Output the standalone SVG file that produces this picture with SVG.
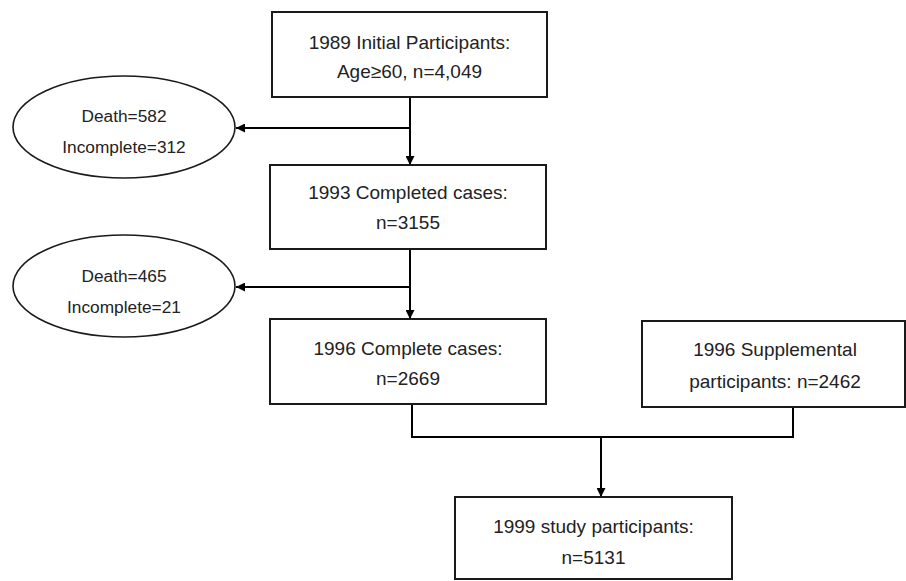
<svg xmlns="http://www.w3.org/2000/svg" width="906" height="581" viewBox="0 0 906 581">
  <defs>
    <marker id="arrow" viewBox="0 0 10 10" refX="10" refY="5" markerWidth="9" markerHeight="9" markerUnits="userSpaceOnUse" orient="auto">
      <path d="M0,0 L10,5 L0,10 z" fill="#000"/>
    </marker>
    <style>
      .box { fill: #fff; stroke: #1a1a1a; stroke-width: 2; }
      .oval { fill: #fff; stroke: #1a1a1a; stroke-width: 1.6; }
      .t { font-family: "Liberation Sans", Arial, sans-serif; font-size: 19px; fill: #222; text-anchor: middle; }
      .te { font-family: "Liberation Sans", Arial, sans-serif; font-size: 17.3px; fill: #222; text-anchor: middle; }
      .c { fill: none; stroke: #000; stroke-width: 2; }
    </style>
  </defs>
  <rect width="906" height="581" fill="#fff"/>

  <g id="connectors">
    <line class="c" x1="410" y1="97" x2="410" y2="165" marker-end="url(#arrow)"/>
    <line class="c" x1="410" y1="128" x2="236" y2="128" marker-end="url(#arrow)"/>
    <line class="c" x1="410" y1="249" x2="410" y2="319" marker-end="url(#arrow)"/>
    <line class="c" x1="410" y1="287" x2="236" y2="287" marker-end="url(#arrow)"/>
    <polyline class="c" points="412,404 412,437 793,437 793,407"/>
    <line class="c" x1="601" y1="437" x2="601" y2="497" marker-end="url(#arrow)"/>
  </g>

  <g id="n1989">
    <rect class="box" x="272" y="12" width="275" height="85"/>
    <text class="t" x="409.5" y="49">1989 Initial Participants:</text>
    <text class="t" x="409.5" y="78">Age≥60, n=4,049</text>
  </g>

  <g id="loss1">
    <ellipse class="oval" cx="124" cy="127" rx="111" ry="51"/>
    <text class="te" x="124" y="122">Death=582</text>
    <text class="te" x="124" y="153">Incomplete=312</text>
  </g>

  <g id="n1993">
    <rect class="box" x="270" y="165" width="276" height="84"/>
    <text class="t" x="408" y="199">1993 Completed cases:</text>
    <text class="t" x="408" y="229">n=3155</text>
  </g>

  <g id="loss2">
    <ellipse class="oval" cx="124" cy="286" rx="111" ry="51"/>
    <text class="te" x="124" y="282">Death=465</text>
    <text class="te" x="124" y="313">Incomplete=21</text>
  </g>

  <g id="n1996">
    <rect class="box" x="270" y="319" width="276" height="85"/>
    <text class="t" x="408" y="355">1996 Complete cases:</text>
    <text class="t" x="408" y="385">n=2669</text>
  </g>

  <g id="n1996s">
    <rect class="box" x="642" y="321" width="263" height="86"/>
    <text class="t" x="775" y="356">1996 Supplemental</text>
    <text class="t" x="775" y="388">participants: n=2462</text>
  </g>

  <g id="n1999">
    <rect class="box" x="455" y="497" width="277" height="82"/>
    <text class="t" x="593.5" y="533">1999 study participants:</text>
    <text class="t" x="593.5" y="564">n=5131</text>
  </g>
</svg>
